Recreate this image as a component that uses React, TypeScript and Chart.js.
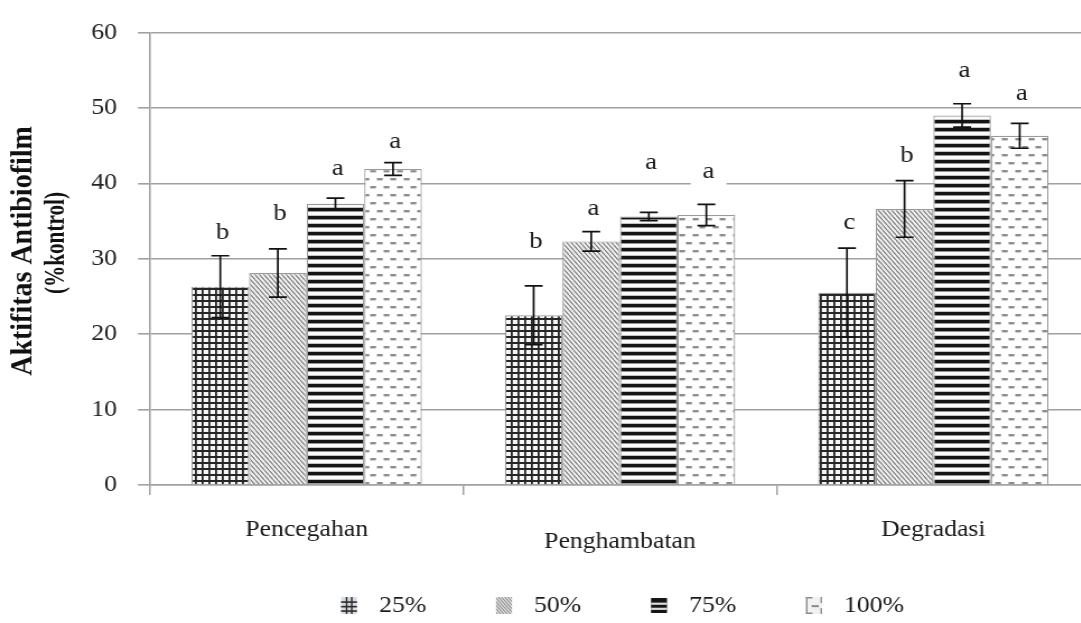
import React, { useEffect, useRef } from 'react';
import { Chart, registerables } from 'chart.js';

Chart.register(...registerables);

// ---------------- data ----------------
const categories = ['Pencegahan', 'Penghambatan', 'Degradasi'];
const seriesLabels = ['25%', '50%', '75%', '100%'];

const values25 = [26.3, 22.5, 25.5];
const values50 = [28.1, 32.3, 36.6];
const values75 = [37.3, 35.6, 49.0];
const values100 = [41.9, 35.8, 46.3];

const errors25 = [4.1, 3.9, 5.9];
const errors50 = [3.2, 1.3, 3.75];
const errors75 = [0.75, 0.55, 1.55];
const errors100 = [0.85, 1.4, 1.65];

const letters25 = ['b', 'b', 'c'];
const letters50 = ['b', 'a', 'b'];
const letters75 = ['a', 'a', 'a'];
const letters100 = ['a', 'a', 'a'];

// height (in axis units) at which each significance letter sits
const letterLevels25 = [33.5, 32.2, 34.8];
const letterLevels50 = [36.0, 36.7, 43.7];
const letterLevels75 = [42.0, 42.8, 54.9];
const letterLevels100 = [45.5, 41.5, 51.9];

const yTicks = [0, 10, 20, 30, 40, 50, 60];
const yTitle = ['Aktifitas Antibiofilm', '(%kontrol)'];

// ---------------- layout constants ----------------
const S = 1.12; // horizontal stretch of the original figure
const CANVAS_W = 976;
const CANVAS_H = 623;
const FONT = "'Liberation Serif', 'Times New Roman', serif";

function makePattern(kind: string): CanvasPattern | string {
  const c = document.createElement('canvas');
  const g = c.getContext('2d');
  if (!g) return '#999';
  if (kind === 'grid') {
    c.width = 6; c.height = 6;
    g.fillStyle = '#f6f6f6'; g.fillRect(0, 0, 6, 6);
    g.fillStyle = '#262626';
    g.fillRect(0, 0, 1.8, 6);
    g.fillRect(0, 0, 6, 2);
  } else if (kind === 'diag') {
    c.width = 4; c.height = 5;
    g.fillStyle = '#f2f2f2'; g.fillRect(0, 0, 4, 5);
    g.strokeStyle = '#7c7c7c'; g.lineWidth = 1.1;
    g.beginPath();
    for (const dx of [-4, 0, 4]) { g.moveTo(dx, 0); g.lineTo(dx + 4, 5); }
    g.stroke();
  } else if (kind === 'hstripe') {
    c.width = 4; c.height = 8;
    g.fillStyle = '#fafafa'; g.fillRect(0, 0, 4, 8);
    g.fillStyle = '#141414'; g.fillRect(0, 0, 4, 3.2);
    g.fillStyle = '#8a8a8a'; g.fillRect(0, 3.2, 4, 0.8); g.fillRect(0, 7.5, 4, 0.5);
  } else {
    c.width = 12; c.height = 16;
    g.fillStyle = '#ffffff'; g.fillRect(0, 0, 12, 16);
    g.fillStyle = '#8c8c8c';
    g.fillRect(0.5, 2, 5.2, 2.4);
    g.fillRect(6.5, 10, 5.2, 2.4);
  }
  return g.createPattern(c, 'repeat') || '#999';
}

// small legend swatches (drawn in screen-x units, caller scales)
function drawSwatch(ctx: CanvasRenderingContext2D, k: number, x: number, y: number, w: number, h: number) {
  ctx.save();
  ctx.translate(x, y);
  if (k === 0) {
    ctx.fillStyle = '#d9dde3'; ctx.fillRect(0, 0, w, h);
    ctx.fillStyle = '#2c2c2c';
    ctx.fillRect(w * 0.3, 0, 1.6, h); ctx.fillRect(w * 0.62, 0, 1.6, h);
    ctx.fillRect(0, h * 0.25, w, 1.6); ctx.fillRect(0, h * 0.52, w, 1.6); ctx.fillRect(0, h * 0.78, w, 1.6);
  } else if (k === 1) {
    ctx.fillStyle = '#e4e4e4'; ctx.fillRect(0, 0, w, h);
    ctx.save();
    ctx.beginPath(); ctx.rect(0, 0, w, h); ctx.clip();
    ctx.strokeStyle = '#8a8a8a'; ctx.lineWidth = 1.1;
    ctx.beginPath();
    for (let d = -h; d < w; d += 3.2) { ctx.moveTo(d, 0); ctx.lineTo(d + h * 0.9, h); }
    ctx.stroke();
    ctx.restore();
  } else if (k === 2) {
    ctx.fillStyle = '#151515'; ctx.fillRect(0, 1, w, h - 2);
    ctx.fillStyle = '#dcdcdc';
    ctx.fillRect(0, h * 0.33, w, 2.2); ctx.fillRect(0, h * 0.63, w, 2.2);
  } else {
    ctx.fillStyle = '#f2f2f2'; ctx.fillRect(0, 0, w, h);
    ctx.fillStyle = '#8a8a8a';
    ctx.fillRect(0, 0, 1.5, h); ctx.fillRect(0, 0, w * 0.4, 1.5); ctx.fillRect(0, h - 1.5, w * 0.4, 1.5);
    ctx.fillRect(w - 1.5, 0, 1.5, h * 0.35); ctx.fillRect(w - 1.5, h * 0.65, 1.5, h * 0.35);
    ctx.fillRect(w * 0.35, h * 0.48, w * 0.45, 2);
  }
  ctx.restore();
}

export default function App() {
  const ref = useRef<HTMLCanvasElement>(null);

  useEffect(() => {
    const canvas = ref.current;
    if (!canvas) return;
    const patterns = [makePattern('grid'), makePattern('diag'), makePattern('hstripe'), makePattern('dash')];
    const seriesValues = [values25, values50, values75, values100];
    const seriesErrors = [errors25, errors50, errors75, errors100];
    const seriesLetters = [letters25, letters50, letters75, letters100];
    const seriesLetterLevels = [letterLevels25, letterLevels50, letterLevels75, letterLevels100];

    const overlay = {
      id: 'overlay',
      afterDatasetsDraw(chart: any) {
        const ctx = chart.ctx as CanvasRenderingContext2D;
        const y = chart.scales.y;
        ctx.save();
        // error bars
        seriesValues.forEach((vals, i) => {
          const meta = chart.getDatasetMeta(i);
          vals.forEach((v, j) => {
            const bar = meta.data[j];
            if (!bar) return;
            const x = bar.x;
            const e = seriesErrors[i][j];
            const yHi = y.getPixelForValue(v + e);
            const yLo = y.getPixelForValue(v - e);
            ctx.strokeStyle = '#111';
            ctx.lineWidth = 1.7;
            ctx.beginPath();
            ctx.moveTo(x, yHi); ctx.lineTo(x, yLo);
            ctx.moveTo(x - 8, yHi); ctx.lineTo(x + 8, yHi);
            ctx.moveTo(x - 8, yLo); ctx.lineTo(x + 8, yLo);
            ctx.stroke();
          });
        });
        // significance letters with white boxes
        ctx.font = `24px ${FONT}`;
        ctx.textAlign = 'center';
        ctx.textBaseline = 'middle';
        seriesLetters.forEach((lets, i) => {
          const meta = chart.getDatasetMeta(i);
          lets.forEach((t, j) => {
            const bar = meta.data[j];
            if (!bar) return;
            const x = bar.x + 2;
            const yy = y.getPixelForValue(seriesLetterLevels[i][j]);
            ctx.fillStyle = '#ffffff';
            ctx.fillRect(x - 16, yy - 13, 32, 26);
            ctx.fillStyle = '#1a1a1a';
            ctx.fillText(t, x, yy);
          });
        });
        ctx.restore();
      },
      afterDraw(chart: any) {
        const ctx = chart.ctx as CanvasRenderingContext2D;
        const xs = chart.scales.x;
        ctx.save();
        // category labels
        const labelY = [530, 542, 530];
        ctx.font = `23px ${FONT}`;
        ctx.fillStyle = '#1a1a1a';
        ctx.textAlign = 'center';
        ctx.textBaseline = 'middle';
        categories.forEach((c, j) => {
          ctx.fillText(c, xs.getPixelForValue(j), labelY[j]);
        });
        // legend
        ctx.textAlign = 'left';
        seriesLabels.forEach((lab, k) => {
          const ix = 341 + 155 * k;
          ctx.save();
          ctx.scale(1 / S, 1);
          drawSwatch(ctx, k, ix, 597, 16, 17);
          ctx.restore();
          ctx.fillStyle = '#1a1a1a';
          ctx.fillText(lab, (ix + 38) / S, 606);
        });
        // y-axis title
        ctx.fillStyle = '#111';
        ctx.textAlign = 'center';
        ctx.textBaseline = 'alphabetic';
        ctx.save();
        ctx.translate(31 / S, 251);
        ctx.rotate(-Math.PI / 2);
        ctx.font = `bold 28px ${FONT}`;
        ctx.fillText(yTitle[0], 0, 0);
        ctx.restore();
        ctx.save();
        ctx.translate(64 / S, 243);
        ctx.rotate(-Math.PI / 2);
        ctx.font = `bold 25px ${FONT}`;
        ctx.fillText(yTitle[1], 0, 0, 102);
        ctx.restore();
        ctx.restore();
      },
    };

    const chart = new Chart(canvas, {
      type: 'bar',
      data: {
        labels: categories,
        datasets: seriesLabels.map((lab, i) => ({
          label: lab,
          data: seriesValues[i],
          backgroundColor: patterns[i] as any,
          borderColor: '#9a9a9a',
          borderWidth: 1.2,
          categoryPercentage: 0.735,
          barPercentage: 1,
        })),
      },
      options: {
        responsive: false,
        animation: false,
        layout: { padding: { left: 0, right: CANVAS_W - 1090 / S, top: 31.5, bottom: 0 } },
        plugins: {
          legend: { display: false },
          tooltip: { enabled: false },
          title: { display: false },
        },
        scales: {
          x: {
            grid: {
              display: true,
              drawOnChartArea: false,
              drawTicks: true,
              tickLength: 10,
              color: '#a0a0a0',
              lineWidth: 1.5,
              offset: true,
            },
            border: { color: '#a0a0a0', width: 1.5 },
            ticks: { color: 'rgba(0,0,0,0)', maxRotation: 0 },
            afterFit: (s: any) => { s.height = 138; },
          },
          y: {
            min: 0,
            max: 60,
            afterBuildTicks: (s: any) => { s.ticks = yTicks.map((v) => ({ value: v })); },
            ticks: { font: { family: FONT, size: 23 }, color: '#222', padding: 18.7 },
            grid: { color: '#a0a0a0', lineWidth: 1.6, tickLength: 10.7 },
            border: { color: '#a0a0a0', width: 1.6 },
            afterFit: (s: any) => { s.width = 150 / S; },
          },
        },
      },
      plugins: [overlay],
    });
    return () => chart.destroy();
  }, []);

  return (
    <div style={{ position: 'fixed', left: 0, top: 0, width: 1081, height: 623, overflow: 'hidden', background: '#fff' }}>
      <div style={{ width: CANVAS_W, height: CANVAS_H, transform: `scaleX(${S})`, transformOrigin: '0 0' }}>
        <canvas ref={ref} width={CANVAS_W} height={CANVAS_H} style={{ width: CANVAS_W, height: CANVAS_H, display: 'block' }} />
      </div>
    </div>
  );
}
